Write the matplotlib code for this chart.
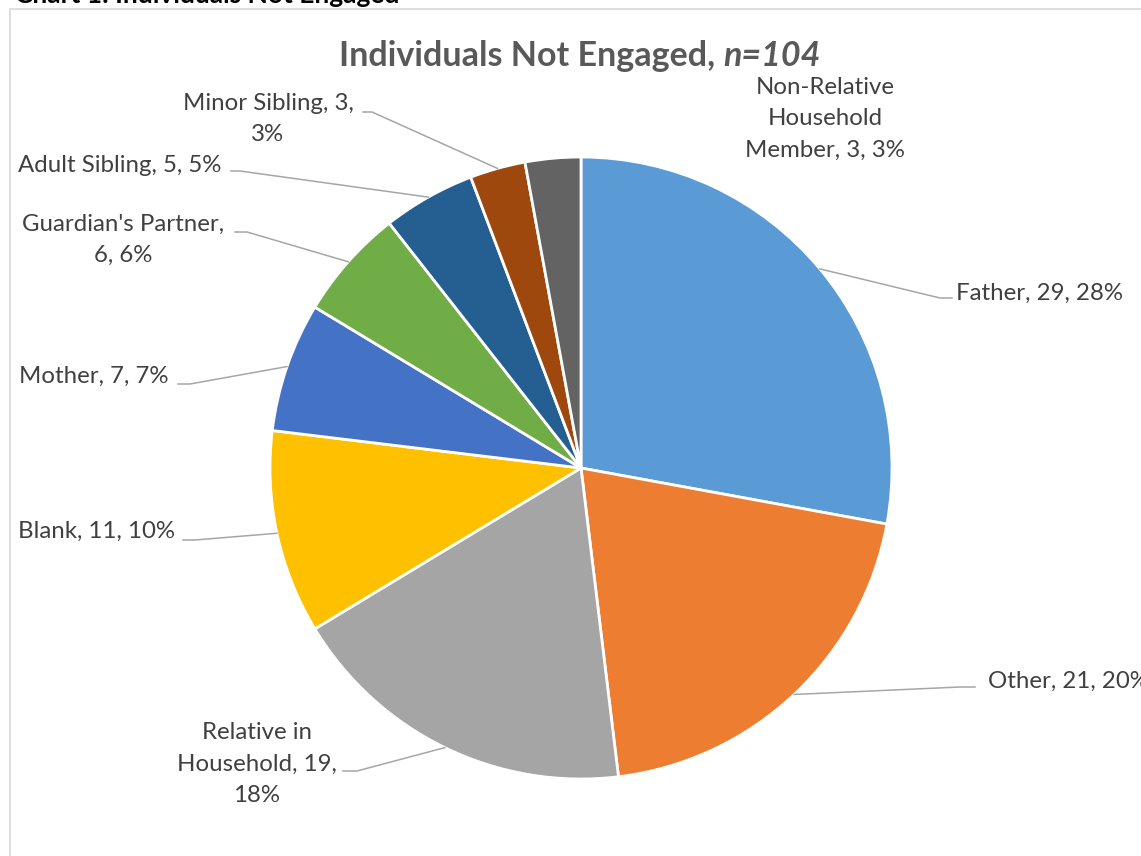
import numpy as np
import matplotlib
matplotlib.use('Agg')
import matplotlib.pyplot as plt
from matplotlib.patches import Rectangle

# data (slices clockwise from 12 o'clock)
categories = ['Father', 'Other', 'Relative in Household', 'Blank', 'Mother',
              "Guardian's Partner", 'Adult Sibling', 'Minor Sibling',
              'Non-Relative Household Member']
counts = [29, 21, 19, 11, 7, 6, 5, 3, 3]
percents = [28, 20, 18, 10, 7, 6, 5, 3, 3]
colors = ['#5B9BD5', '#ED7D31', '#A5A5A5', '#FFC000', '#4472C4',
          '#70AD47', '#255E91', '#9E480E', '#636363']
# where Excel wrapped the label text
wraps = [None, None, ['Relative in', 'Household, 19,', '18%'], None, None,
         ["Guardian's Partner,", '6, 6%'], None, ['Minor Sibling, 3,', '3%'],
         ['Non-Relative', 'Household', 'Member, 3, 3%']]

# layout, in figure pixels
W, H = 1141, 856
CX, CY, R = 581, 468, 311
label_pos = [(1040, 293), (1068, 681), (257, 764), (97, 531), (94, 376),
             (123, 240), (120, 166), (268, 119), (825, 119)]
# (end near the text, elbow) of each leader line
leaders = [((952, 298), (940, 298)), ((975, 687), (960, 687)),
           ((343, 771), (357, 771)), ((183, 540), (195, 540)),
           ((178, 384), (190, 384)), ((235, 232), (247, 232)),
           ((231, 171), (240, 171)), ((363, 112), (372, 112)), None]

FONT = 'Lato'
TXT = '#404040'


def px(x, y):
    return (x - CX) / R, (CY - y) / R


fig = plt.figure(figsize=(W / 100, H / 100), dpi=100)
fig.patches.append(Rectangle((10 / W, -0.1), 1.2, 1 - 9 / H + 0.1,
                             transform=fig.transFigure, fill=False,
                             edgecolor='#D9D9D9', linewidth=1.2))

# heading above the chart box, cut off by the top edge as in the original
fig.text(15 / W, 1 - 3 / H, 'Chart 1: Individuals Not Engaged', fontsize=19,
         fontweight='bold', family=FONT, color='black', va='baseline')

ax = fig.add_axes([(CX - R) / W, (H - CY - R) / H, 2 * R / W, 2 * R / H])
wedges, _ = ax.pie(counts, colors=colors, startangle=90, counterclock=False,
                   radius=1, wedgeprops=dict(edgecolor='white', linewidth=2))
ax.set_xlim(-1, 1)
ax.set_ylim(-1, 1)
ax.axis('off')

for i, w in enumerate(wedges):
    if wraps[i]:
        text = '\n'.join(wraps[i])
    else:
        text = '{}, {}, {}%'.format(categories[i], counts[i], percents[i])
    x, y = px(*label_pos[i])
    ax.text(x, y, text, ha='center', va='center', multialignment='center',
            fontsize=17.3, family=FONT, color=TXT, linespacing=1.6,
            clip_on=False)

    if leaders[i] is None:
        continue
    mid = np.deg2rad((w.theta1 + w.theta2) / 2)
    end, elbow = leaders[i]
    xs = [px(*end)[0], px(*elbow)[0], np.cos(mid)]
    ys = [px(*end)[1], px(*elbow)[1], np.sin(mid)]
    ax.plot(xs, ys, color='#A6A6A6', linewidth=1.1, clip_on=False)

# title: bold with an italic n
t1 = fig.text(0, 1 - 66 / H, 'Individuals Not Engaged, ', fontsize=24.5,
              fontweight='bold', family=FONT, color='#595959', va='baseline')
t2 = fig.text(0, 1 - 66 / H, 'n=104', fontsize=24.5, fontweight='bold',
              style='italic', family=FONT, color='#595959', va='baseline')
r = fig.canvas.get_renderer()
w1 = t1.get_window_extent(r).width
w2 = t2.get_window_extent(r).width
left = 580 - (w1 + w2) / 2
t1.set_x(left / W)
t2.set_x((left + w1) / W)

fig.savefig('out.png', dpi=100)
